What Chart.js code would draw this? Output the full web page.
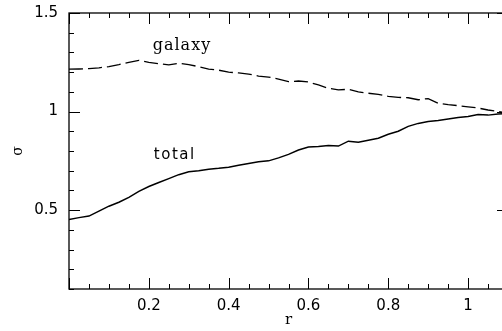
<!DOCTYPE html>
<html lang="en">
<head>
  <meta charset="UTF-8" />
  <title>sigma vs r</title>
  <script src="https://cdn.jsdelivr.net/npm/chart.js"></script>
  <style>
    html, body { margin: 0; padding: 0; background: #fff; overflow: hidden; }
    #wrap { width: 502px; height: 331px; overflow: hidden; }
    #sigmaChart { width: 512px; height: 331px; }
  </style>
</head>
<body>
<div id="wrap">
  <canvas id="sigmaChart" width="512" height="331"></canvas>
</div>
<script>
// radius values (shared by both curves)
const rValues = [0, 0.025, 0.05, 0.075, 0.1, 0.125, 0.15, 0.175, 0.2, 0.225,
  0.25, 0.275, 0.3, 0.325, 0.35, 0.375, 0.4, 0.425, 0.45, 0.475,
  0.5, 0.525, 0.55, 0.575, 0.6, 0.625, 0.65, 0.675, 0.7, 0.725,
  0.75, 0.775, 0.8, 0.825, 0.85, 0.875, 0.9, 0.925, 0.95, 0.975,
  1.0, 1.025, 1.05, 1.075, 1.1];

// dashed curve
const galaxySigma = [1.215, 1.216, 1.218, 1.222, 1.228, 1.238, 1.25, 1.26, 1.25, 1.243,
  1.237, 1.245, 1.238, 1.228, 1.215, 1.21, 1.2, 1.196, 1.19, 1.18,
  1.175, 1.165, 1.152, 1.155, 1.15, 1.135, 1.118, 1.11, 1.113, 1.1,
  1.093, 1.087, 1.077, 1.072, 1.07, 1.06, 1.066, 1.042, 1.035, 1.03,
  1.024, 1.018, 1.008, 1.0, 0.992];

// solid curve
const totalSigma = [0.453, 0.462, 0.47, 0.495, 0.52, 0.54, 0.565, 0.595, 0.62, 0.64,
  0.66, 0.68, 0.695, 0.7, 0.708, 0.712, 0.718, 0.728, 0.737, 0.745,
  0.75, 0.765, 0.783, 0.805, 0.82, 0.823, 0.828, 0.825, 0.85, 0.845,
  0.855, 0.865, 0.885, 0.9, 0.925, 0.94, 0.95, 0.955, 0.962, 0.97,
  0.975, 0.985, 0.982, 0.988, 0.99];

const xMajorLabels = [0.2, 0.4, 0.6, 0.8, 1];
const yMajorLabels = [0.5, 1, 1.5];

// curve names written next to the lines: [text, r, sigma]
const curveNames = [["galaxy", 0.283, 1.332], ["total", 0.265, 0.779]];

const near = (v, list) => list.some(m => Math.abs(v - m) < 1e-6);

const frameTicks = {
  id: "frameTicks",
  beforeDraw(chart) {
    const ctx = chart.ctx;
    ctx.save();
    ctx.fillStyle = "#fff";
    ctx.fillRect(0, 0, chart.width, chart.height);
    ctx.restore();
  },
  afterDraw(chart) {
    const { ctx, chartArea: a, scales } = chart;
    ctx.save();
    ctx.strokeStyle = "#000";
    ctx.lineWidth = 1.3;
    ctx.strokeRect(a.left, a.top, a.right - a.left, a.bottom - a.top);
    ctx.lineWidth = 1;
    ctx.beginPath();
    scales.x.ticks.forEach(t => {
      const px = Math.round(scales.x.getPixelForValue(t.value)) + 0.5;
      const len = near(t.value, [0, 0.2, 0.4, 0.6, 0.8, 1]) ? 11 : 5;
      ctx.moveTo(px, a.bottom); ctx.lineTo(px, a.bottom - len);
      ctx.moveTo(px, a.top); ctx.lineTo(px, a.top + len);
    });
    scales.y.ticks.forEach(t => {
      const py = Math.round(scales.y.getPixelForValue(t.value)) + 0.5;
      const len = near(t.value, yMajorLabels) ? 11 : 5;
      ctx.moveTo(a.left, py); ctx.lineTo(a.left + len, py);
      ctx.moveTo(a.right, py); ctx.lineTo(a.right - len, py);
    });
    ctx.stroke();

    ctx.fillStyle = "#000";
    ctx.textAlign = "center";
    ctx.textBaseline = "middle";
    curveNames.forEach(([txt, r, s]) => {
      ctx.font = txt === "galaxy" ? "16px 'DejaVu Serif'" : "15px 'DejaVu Sans'";
      ctx.letterSpacing = txt === "galaxy" ? "1px" : "1.5px";
      ctx.fillText(txt, scales.x.getPixelForValue(r), scales.y.getPixelForValue(s));
    });
    ctx.restore();
  }
};

new Chart(document.getElementById("sigmaChart"), {
  type: "line",
  plugins: [frameTicks],
  data: {
    datasets: [
      {
        label: "galaxy",
        data: rValues.map((r, i) => ({ x: r, y: galaxySigma[i] })),
        borderColor: "#000",
        borderWidth: 1.3,
        borderDash: [14, 5],
        pointRadius: 0,
        tension: 0
      },
      {
        label: "total",
        data: rValues.map((r, i) => ({ x: r, y: totalSigma[i] })),
        borderColor: "#000",
        borderWidth: 1.5,
        pointRadius: 0,
        tension: 0
      }
    ]
  },
  options: {
    responsive: false,
    animation: false,
    devicePixelRatio: 1,
    layout: { padding: { top: 13, right: 4, left: 0, bottom: 0 } },
    plugins: { legend: { display: false }, tooltip: { enabled: false } },
    scales: {
      x: {
        type: "linear",
        min: 0,
        max: 1.1,
        grid: { display: false, drawTicks: false },
        border: { display: false },
        afterFit: s => { s.height = 42; s.paddingLeft = 0; s.paddingRight = 0; },
        ticks: {
          stepSize: 0.05,
          autoSkip: false,
          maxRotation: 0,
          padding: 8,
          color: "#000",
          font: { family: "DejaVu Sans", size: 15 },
          callback: v => near(v, xMajorLabels) ? String(Math.round(v * 10) / 10) : ""
        },
        title: {
          display: true,
          text: "r",
          color: "#000",
          font: { family: "DejaVu Serif", size: 15 },
          padding: { top: 0, bottom: 2 }
        }
      },
      y: {
        min: 0.1,
        max: 1.5,
        grid: { display: false, drawTicks: false },
        border: { display: false },
        afterFit: s => { s.width = 69; s.paddingTop = 0; s.paddingBottom = 0; },
        ticks: {
          stepSize: 0.1,
          autoSkip: false,
          padding: 11,
          color: "#000",
          font: { family: "DejaVu Sans", size: 15 },
          callback: v => near(v, yMajorLabels) ? String(Math.round(v * 10) / 10) : ""
        },
        title: {
          display: true,
          text: "σ",
          color: "#000",
          font: { family: "DejaVu Serif", size: 14 },
          padding: { top: 10, bottom: 0 }
        }
      }
    }
  }
});
</script>
</body>
</html>
